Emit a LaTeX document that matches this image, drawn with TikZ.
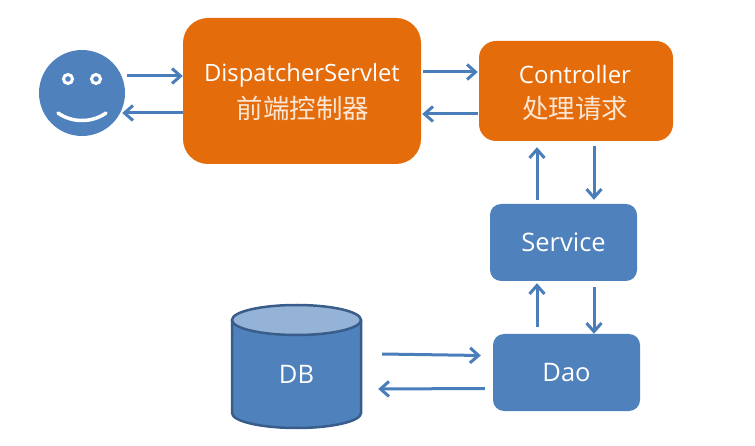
\documentclass[tikz,border=0pt]{standalone}
\usepackage{fontspec}
\setmainfont{Open Sans}
\newfontfamily\cjk{Noto Sans CJK SC}
\usetikzlibrary{arrows.meta}
\definecolor{orangebox}{HTML}{E46C0A}
\definecolor{bluebox}{HTML}{4F81BD}
\definecolor{linkblue}{HTML}{4A7EBB}
\definecolor{dbedge}{HTML}{385D8A}
\definecolor{dbtop}{HTML}{95B3D7}
\definecolor{palelabel}{HTML}{FBE6D5}
\tikzset{
  x=1pt,y=-1pt,
  orangenode/.style={fill=orangebox,rounded corners=#1,inner sep=0pt,align=center,text=white},
  bluenode/.style={fill=bluebox,rounded corners=11pt,inner sep=0pt,align=center,text=white,font=\fontsize{25.5}{30}\selectfont},
  link/.style={draw=linkblue,line width=3pt,-{Straight Barb[length=8.5pt,width=15pt,line width=3pt]}},
  eyenode/.style={circle,fill=bluebox,draw=white,line width=3pt,minimum size=9pt,inner sep=0pt},
}
\begin{document}
\begin{tikzpicture}
\useasboundingbox (0,0) rectangle (755,446);
% face
\node[circle,fill=bluebox,minimum size=86pt,inner sep=0pt] (face) at (82,93) {};
\node[eyenode] (eyeL) at (68,79) {};
\node[eyenode] (eyeR) at (96,79) {};
\draw[white,line width=3.5pt,line cap=round] (58,113) .. controls (72,123) and (92,123) .. (106,113);
% main boxes
\node[orangenode=25pt,minimum width=238pt,minimum height=146pt] (ds) at (302,91) {};
\node[text=white,font=\fontsize{23.8}{28}\selectfont] (dsA) at (302,75) {DispatcherServlet};
\node[text=palelabel,font=\cjk\fontsize{26.5}{31}\selectfont] (dsB) at (303,108) {前端控制器};
\node[orangenode=17pt,minimum width=194pt,minimum height=100pt] (ctl) at (576,91) {};
\node[text=white,font=\fontsize{24}{28}\selectfont] (ctlA) at (575,75) {Controller};
\node[text=palelabel,font=\cjk\fontsize{26.5}{31}\selectfont] (ctlB) at (575,108) {处理请求};
\node[bluenode,minimum width=147pt,minimum height=77pt] (svc) at (563.5,242.5) {Service};
\node[bluenode,minimum width=147pt,minimum height=77pt] (dao) at (566.5,372.5) {\raisebox{-1pt}{Dao}};
% database
\fill[bluebox] (232,320) -- (232,413) arc[start angle=180,end angle=0,x radius=64.5,y radius=15] -- (361,320) -- cycle;
\draw[draw=dbedge,line width=2.5pt] (232,320) -- (232,413) arc[start angle=180,end angle=0,x radius=64.5,y radius=15] -- (361,320);
\draw[draw=dbedge,line width=2.5pt,fill=dbtop] (296.5,320) ellipse[x radius=64.5,y radius=15];
\node[inner sep=0pt,minimum width=129pt,minimum height=30pt,text=white,font=\fontsize{25.5}{30}\selectfont] (db) at (296.5,374) {DB};
% connectors
\draw[link] ([shift={(2,-17)}]face.east) -- ([shift={(0,-15)}]ds.west);
\draw[link] ([shift={(0,22)}]ds.west) -- ([shift={(-3,20)}]face.east);
\draw[link] ([shift={(2,-19)}]ds.east) -- ([shift={(-1,-19)}]ctl.west);
\draw[link] ([shift={(-1,23)}]ctl.west) -- ([shift={(1,23)}]ds.east);
\draw[link] ([shift={(-26.5,-4)}]svc.north) -- ([shift={(-39,6)}]ctl.south);
\draw[link] ([shift={(18,5)}]ctl.south) -- ([shift={(30.5,-4)}]svc.north);
\draw[link] ([shift={(-29.5,-7)}]dao.north) -- ([shift={(-26.5,2)}]svc.south);
\draw[link] ([shift={(30.5,6)}]svc.south) -- ([shift={(27.5,0)}]dao.north);
\draw[link] ([shift={(21,-20)}]db.east) -- ([shift={(-12,-17)}]dao.west);
\draw[link] ([shift={(-8,16)}]dao.west) -- ([shift={(17,15)}]db.east);
\end{tikzpicture}
\end{document}
